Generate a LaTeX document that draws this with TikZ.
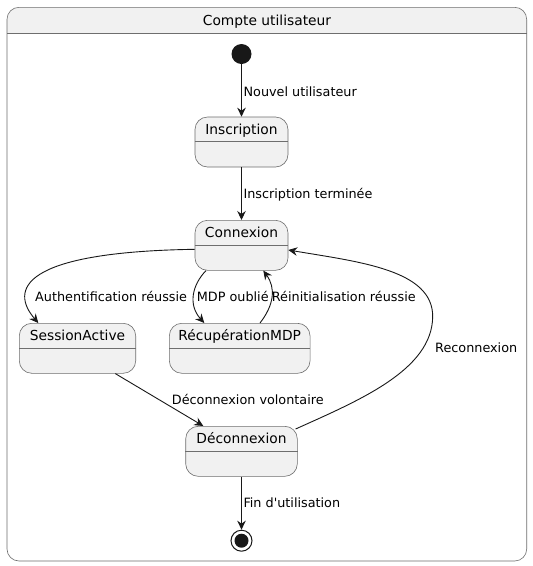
\documentclass[tikz,border=0pt]{standalone}
\usepackage{fontspec}
\setmainfont{DejaVu Sans}[Ligatures=TeXOff]
\usetikzlibrary{arrows.meta}
\definecolor{stfill}{HTML}{F1F1F1}
\definecolor{stborder}{HTML}{6E6E6E}
\definecolor{arr}{HTML}{181818}
\begin{document}
\begin{tikzpicture}[x=1pt,y=-1pt,
  stbox/.style={draw=stborder, fill=stfill, line width=0.6pt, rounded corners=12.5pt, inner sep=0pt, minimum height=50pt},
  stname/.style={inner sep=0pt, anchor=base, font=\fontsize{13.8}{16}\selectfont},
  lbl/.style={inner sep=0pt, anchor=base west, font=\fontsize{12.8}{15}\selectfont},
  tr/.style={draw=arr, line width=0.9pt, -{Stealth[length=9pt,width=8.5pt,inset=3pt]}},
  sepl/.style={draw=stborder, line width=0.6pt}]
\useasboundingbox (0,0) rectangle (533,566);
\fill[white] (0,0) rectangle (533,566);
% container
\fill[white, rounded corners=12pt] (7,7.3) rectangle (526.7,561);
\begin{scope}
  \clip (7,7.3) rectangle (526.7,33.3);
  \fill[stfill, rounded corners=12pt] (7,7.3) rectangle (526.7,561);
\end{scope}
\draw[sepl] (7,33.3) -- (526.7,33.3);
\draw[stborder, line width=0.6pt, rounded corners=12pt] (7,7.3) rectangle (526.7,561);
\node[stname] (title) at (267,25.4) {Compte utilisateur};
% states
\node[stbox, minimum width=93pt] (ins) at (241.5,142) {};
\node[stbox, minimum width=93pt] (con) at (241.5,245.3) {};
\node[stbox, minimum width=116.4pt] (ses) at (77.5,348.3) {};
\node[stbox, minimum width=140.7pt] (rec) at (239.7,348.3) {};
\node[stbox, minimum width=111.6pt] (dec) at (241.5,451.3) {};
\foreach \s in {ins,con,ses,rec,dec}{
  \draw[sepl] ([yshift=-25pt]\s.north west) -- ([yshift=-25pt]\s.north east);
}
\node[stname] (insT) at ([yshift=-17.5pt]ins.north) {Inscription};
\node[stname] (conT) at ([yshift=-17.5pt]con.north) {Connexion};
\node[stname] (sesT) at ([yshift=-17.5pt]ses.north) {SessionActive};
\node[stname] (recT) at ([yshift=-17.5pt]rec.north) {RécupérationMDP};
\node[stname] (decT) at ([yshift=-17.5pt]dec.north) {Déconnexion};
% pseudo states
\node[circle, fill=arr, minimum size=20pt, inner sep=0pt] (ini) at (241.5,54) {};
\node[circle, draw=arr, line width=1pt, fill=white, minimum size=21pt, inner sep=0pt] (fin) at (241.5,540.7) {};
\node[circle, fill=arr, minimum size=14pt, inner sep=0pt] (finI) at (fin.center) {};
% transitions
\draw[tr] (ini) -- (ins);
\draw[tr] (ins) -- (con);
\draw[tr] ([yshift=-4pt]con.west) .. controls (20,252) and (10,290) .. ([xshift=-39.2pt]ses.north);
\draw[tr] ([xshift=-35.5pt]con.south) .. controls (192,285) and (188,305) .. ([xshift=-35.4pt]rec.north);
\draw[tr] ([xshift=20.3pt]rec.north) .. controls (274,305) and (276,288) .. ([xshift=21.8pt]con.south);
\draw[tr] ([xshift=-20.7pt]ses.south east) -- ([xshift=-38.2pt]dec.north);
\draw[tr] ([xshift=-2pt,yshift=-3pt]dec.north east) .. controls (360,400) and (432,370) .. (432.7,316.7)
          .. controls (433,270) and (360,262) .. ([yshift=-4.7pt]con.east);
\draw[tr] (dec) -- (fin);
% labels
\node[lbl] (l1) at (243.4,96.4) {Nouvel utilisateur};
\node[lbl] (l2) at (243.3,198) {Inscription terminée};
\node[lbl] (l3) at (35,301.9) {Authentification réussie};
\node[lbl] (l4) at (196.7,301.9) {MDP oublié};
\node[lbl] (l5) at (271.7,301.9) {Réinitialisation réussie};
\node[lbl] (l6) at (435,352.9) {Reconnexion};
\node[lbl] (l7) at (171.7,404.6) {Déconnexion volontaire};
\node[lbl] (l8) at (243.3,507.5) {Fin d'utilisation};
\end{tikzpicture}
\end{document}
